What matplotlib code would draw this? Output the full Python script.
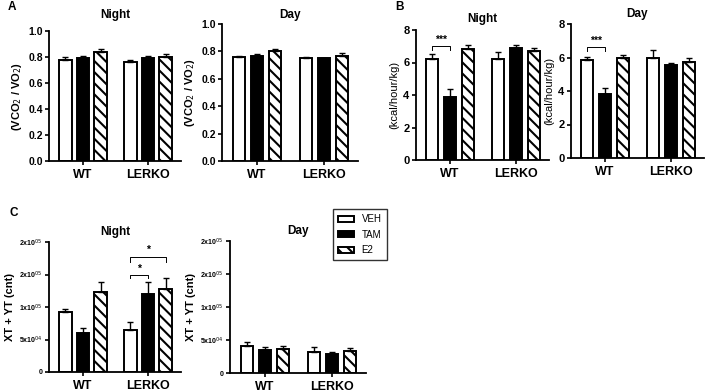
import numpy as np
import matplotlib
matplotlib.use('Agg')
import matplotlib.pyplot as plt
from matplotlib.patches import Patch

plt.rcParams['font.family'] = ['Liberation Sans', 'DejaVu Sans']
plt.rcParams['hatch.linewidth'] = 1.5

# groups and treatments
groups = ['WT', 'LERKO']
treatments = ['VEH', 'TAM', 'E2']

# panel A: RER (VCO2 / VO2)
rer_night = [[0.78, 0.79, 0.84], [0.76, 0.79, 0.80]]
rer_night_err = [[0.02, 0.02, 0.02], [0.02, 0.015, 0.025]]
rer_day = [[0.76, 0.77, 0.80], [0.75, 0.75, 0.77]]
rer_day_err = [[0.01, 0.01, 0.015], [0.01, 0.005, 0.015]]

# panel B: energy expenditure (kcal/hour/kg)
ee_night = [[6.2, 3.9, 6.85], [6.2, 6.9, 6.7]]
ee_night_err = [[0.35, 0.45, 0.25], [0.45, 0.2, 0.2]]
ee_day = [[5.85, 3.8, 5.95], [6.0, 5.55, 5.75]]
ee_day_err = [[0.2, 0.4, 0.2], [0.45, 0.1, 0.2]]

# panel C: activity XT + YT (cnt)
act_night = [[93000, 60000, 123000], [64000, 120500, 127000]]
act_night_err = [[4000, 8000, 16000], [13000, 18000, 17000]]
act_day = [[41500, 34500, 37000], [32500, 29000, 33500]]
act_day_err = [[6000, 5500, 4000], [7500, 3000, 5000]]

act_ticks = [0, 50000, 100000, 150000, 200000]
act_ticklabels = ['0', '5x10$^{04}$', '1x10$^{05}$', '2x10$^{05}$', '2x10$^{05}$']

W, H = 709, 392
fig = plt.figure(figsize=(W / 100, H / 100), dpi=100)

BW = 0.19
OFF = 0.27
HATCH = '\\\\\\'


def make_axes(x_wt, spacing, y_top, y_zero):
    left = x_wt - 0.52 * spacing
    width = 2.02 * spacing
    return fig.add_axes([left / W, 1 - y_zero / H, width / W, (y_zero - y_top) / H])


def draw_bars(ax, vals, errs, ymax, yticks, yticklabels, title, title_y, ylabel,
              ylabel_bold=True, tick_fs=7.5):
    styles = [dict(color='white', hatch=None),
              dict(color='black', hatch=None),
              dict(color='white', hatch=HATCH)]
    for j, st in enumerate(styles):
        xs = np.arange(len(groups)) + (j - 1) * OFF
        v = [vals[g][j] for g in range(len(groups))]
        e = [errs[g][j] for g in range(len(groups))]
        ax.bar(xs, v, width=BW, color=st['color'], edgecolor='black', linewidth=1.4,
               hatch=st['hatch'], zorder=2)
        ax.errorbar(xs, v, yerr=[np.zeros(len(e)), e], fmt='none', ecolor='black',
                    elinewidth=1.0, capsize=2.2, capthick=1.0, zorder=3)
    ax.set_xlim(-0.52, 1.5)
    ax.set_ylim(0, ymax)
    ax.set_yticks(yticks)
    ax.set_yticklabels(yticklabels, fontsize=tick_fs, fontweight='bold')
    ax.set_xticks(range(len(groups)))
    ax.set_xticklabels(groups, fontsize=9, fontweight='bold')
    for s in ['top', 'right']:
        ax.spines[s].set_visible(False)
    for s in ['left', 'bottom']:
        ax.spines[s].set_linewidth(1.3)
    ax.tick_params(axis='both', direction='out', length=3, width=1.2, pad=1.5)
    ax.tick_params(axis='x', pad=3)
    bb = ax.get_position()
    fig.text((bb.x0 + bb.x1) / 2, 1 - title_y / H, title, fontsize=8.5, fontweight='bold',
             ha='center', va='center')
    ax.set_ylabel(ylabel, fontsize=8, fontweight='bold' if ylabel_bold else 'normal', labelpad=3)


def bracket(ax, x0, x1, y, drop, label, star_gap):
    ax.plot([x0, x0, x1, x1], [y - drop, y, y, y - drop], color='black', lw=0.7, zorder=4)
    ax.text((x0 + x1) / 2, y + star_gap, label, ha='center', va='center', fontsize=7.5,
            fontweight='bold')


# Panel A
axA1 = make_axes(83, 65, 31, 161)
draw_bars(axA1, rer_night, rer_night_err, 1.0, np.arange(0, 1.01, 0.2),
          ['0.0', '0.2', '0.4', '0.6', '0.8', '1.0'], 'Night', 15, '(VCO$_2$ / VO$_2$)')
axA2 = make_axes(257, 67, 24, 161)
draw_bars(axA2, rer_day, rer_day_err, 1.0, np.arange(0, 1.01, 0.2),
          ['0.0', '0.2', '0.4', '0.6', '0.8', '1.0'], 'Day', 15, '(VCO$_2$ / VO$_2$)')

# Panel B
axB1 = make_axes(450, 66, 30, 160)
draw_bars(axB1, ee_night, ee_night_err, 8, [0, 2, 4, 6, 8], ['0', '2', '4', '6', '8'],
          'Night', 19, '(kcal/hour/kg)', ylabel_bold=False, tick_fs=8)
bracket(axB1, -OFF, 0, 7.0, 0.2, '***', 0.4)
axB2 = make_axes(605, 66, 24, 158)
draw_bars(axB2, ee_day, ee_day_err, 8, [0, 2, 4, 6, 8], ['0', '2', '4', '6', '8'],
          'Day', 14, '(kcal/hour/kg)', ylabel_bold=False, tick_fs=8)
bracket(axB2, -OFF, 0, 6.6, 0.2, '***', 0.4)

# Panel C
axC1 = make_axes(83, 65, 242, 372)
draw_bars(axC1, act_night, act_night_err, 200000, act_ticks, act_ticklabels,
          'Night', 232, 'XT + YT (cnt)', tick_fs=5)
bracket(axC1, 1 - OFF, 1, 150000, 5000, '*', 9000)
bracket(axC1, 1 - OFF, 1 + OFF, 177000, 7000, '*', 11000)
axC2 = make_axes(265, 67, 241, 373)
draw_bars(axC2, act_day, act_day_err, 200000, act_ticks, act_ticklabels,
          'Day', 231, 'XT + YT (cnt)', tick_fs=5)

# legend
handles = [Patch(facecolor='white', edgecolor='black', linewidth=1.4),
           Patch(facecolor='black', edgecolor='black', linewidth=1.4),
           Patch(facecolor='white', edgecolor='black', linewidth=1.4, hatch=HATCH)]
leg = fig.legend(handles, treatments, loc='upper left', bbox_to_anchor=(333 / W, 1 - 209 / H),
                 fontsize=7, frameon=True, fancybox=False, edgecolor='black',
                 handlelength=1.6, handleheight=0.55, borderpad=0.55, labelspacing=0.55,
                 handletextpad=0.8, borderaxespad=0)
leg.get_frame().set_linewidth(1.0)

# panel letters
fig.text(8 / W, 1 - 7 / H, 'A', fontsize=8.5, fontweight='bold', va='center')
fig.text(395 / W, 1 - 7 / H, 'B', fontsize=8.5, fontweight='bold', va='center')
fig.text(10 / W, 1 - 213 / H, 'C', fontsize=8.5, fontweight='bold', va='center')

fig.savefig('out.png', dpi=100)
